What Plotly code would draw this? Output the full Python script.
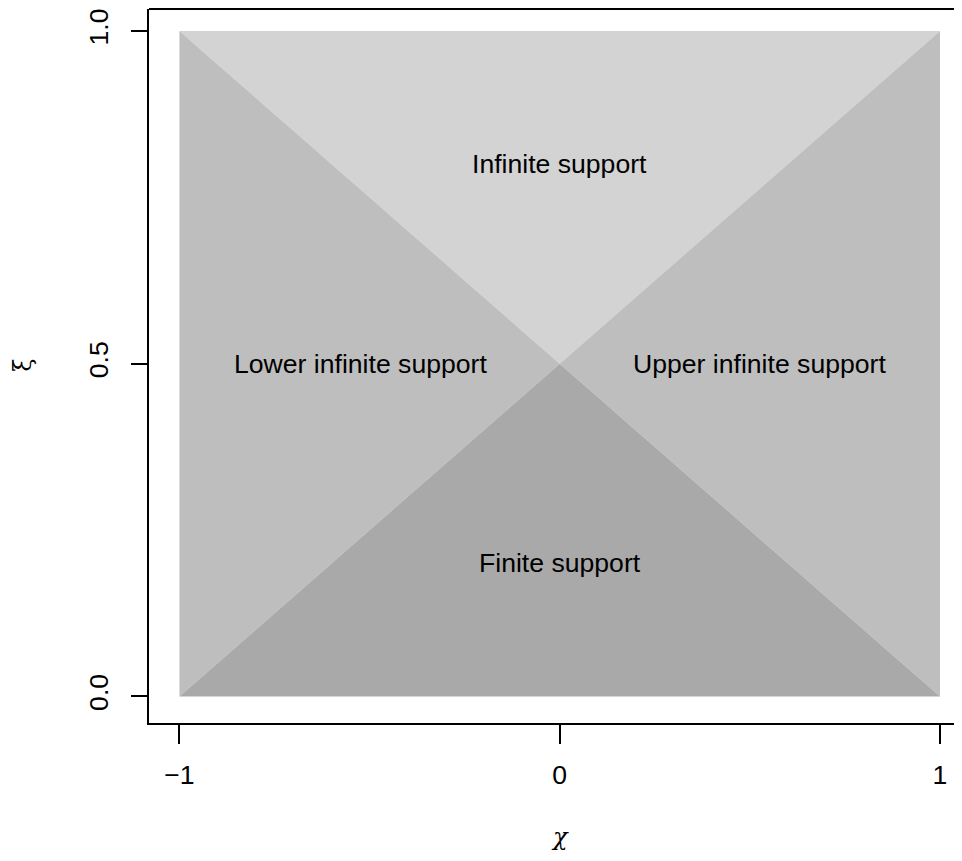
import plotly.graph_objects as go

# Region polygons (chi, xi) and labels
regions = ["Infinite support", "Lower infinite support", "Upper infinite support", "Finite support"]
region_x = [[-1, 1, 0], [-1, -1, 0], [1, 1, 0], [-1, 1, 0]]
region_y = [[1, 1, 0.5], [0, 1, 0.5], [0, 1, 0.5], [0, 0, 0.5]]
region_colors = ["#D3D3D3", "#BEBEBE", "#BEBEBE", "#A9A9A9"]
label_x = [0, -0.525, 0.525, 0]
label_y = [0.8, 0.5, 0.5, 0.2]

x_ticks = [-1, 0, 1]
x_ticklabels = ["\u22121", "0", "1"]
y_ticks = [0.0, 0.5, 1.0]
y_ticklabels = ["0.0", "0.5", "1.0"]

FONT = "Liberation Sans, Arial, Helvetica"
FS = 26.6

fig = go.Figure()
for xs, ys, c in zip(region_x, region_y, region_colors):
    fig.add_trace(go.Scatter(x=xs + [xs[0]], y=ys + [ys[0]], fill="toself", fillcolor=c,
                             mode="lines", line=dict(width=0, color=c), hoverinfo="skip",
                             showlegend=False))

for t, lx, ly in zip(regions, label_x, label_y):
    fig.add_annotation(x=lx, y=ly, text=t, showarrow=False,
                       font=dict(family=FONT, size=FS, color="black"))

# figure geometry (page has an 8px body margin)
W, H = 954, 853
xm1_px, xp1_px = 171, 932          # positions of chi=-1 and chi=1
y1_px, y0_px = 23, 688             # positions of xi=1 and xi=0
ppu_x = (xp1_px - xm1_px) / 2
ppu_y = (y0_px - y1_px)
left = xm1_px - 0.08 * ppu_x
top = 1
bottom = y0_px + 0.04 * ppu_y
x0 = -1.08
x1 = -1 + (W - xm1_px) / ppu_x
ytop = 1 + (y1_px - top) / ppu_y

fig.update_layout(
    width=W, height=H,
    margin=dict(l=left, r=0, t=top, b=H - bottom, pad=0),
    plot_bgcolor="white", paper_bgcolor="white",
    font=dict(family=FONT, size=FS, color="black"),
    xaxis=dict(range=[x0, x1], tickvals=x_ticks, ticktext=x_ticklabels,
               showgrid=False, zeroline=False, showline=True, linecolor="black", linewidth=1.8,
               ticks="outside", ticklen=19, tickwidth=1.8, tickcolor="black",
               ticklabelstandoff=8, tickfont=dict(family=FONT, size=FS)),
    yaxis=dict(range=[-0.04, ytop], tickvals=y_ticks, ticktext=y_ticklabels, tickangle=-90,
               showgrid=False, zeroline=False, showline=True, linecolor="black", linewidth=1.8,
               ticks="outside", ticklen=16, tickwidth=1.8, tickcolor="black",
               ticklabelstandoff=12, tickfont=dict(family=FONT, size=FS)),
)

# top border line of the box
fig.add_shape(type="line", xref="paper", yref="paper", x0=0, x1=1, y0=1, y1=1,
              line=dict(color="black", width=1.8))

# axis titles
fig.add_annotation(xref="paper", yref="paper", x=(552 - left) / (W - left),
                   y=-(829 - bottom) / (bottom - top),
                   text="<i>\u03c7</i>", showarrow=False, xanchor="center", yanchor="middle",
                   font=dict(family="DejaVu Serif", size=24, color="black"))
fig.add_annotation(xref="paper", yref="paper", x=-(left - 15) / (W - left),
                   y=(bottom - 357) / (bottom - top),
                   text="\u03be", showarrow=False, xanchor="center", yanchor="middle", textangle=-90,
                   font=dict(family="DejaVu Serif", size=24, color="black"))

fig.write_html("out.html")
